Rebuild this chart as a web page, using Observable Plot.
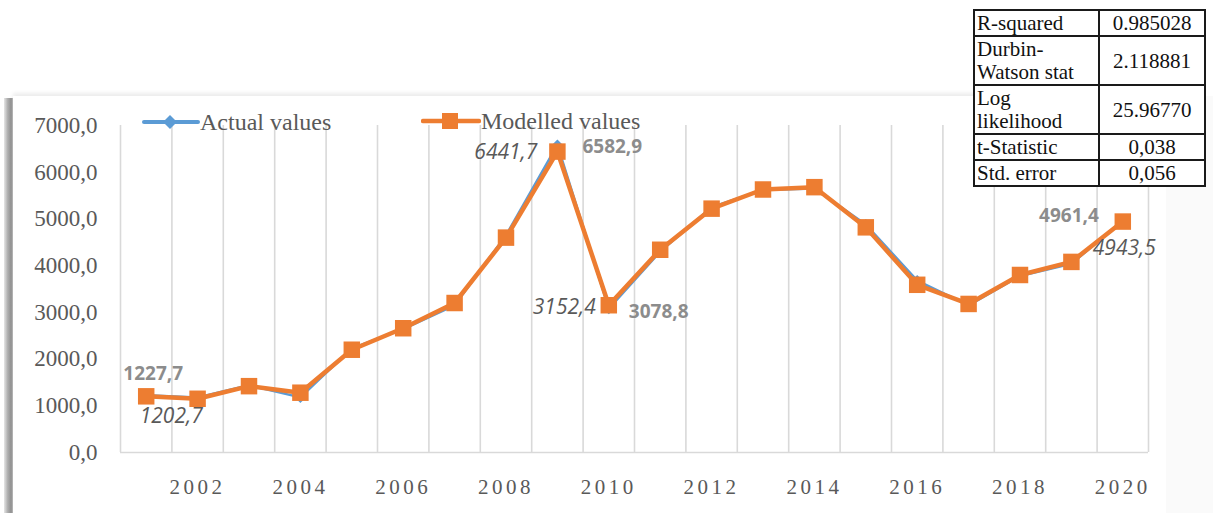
<!DOCTYPE html>
<html>
<head>
<meta charset="utf-8">
<script src="https://cdn.jsdelivr.net/npm/d3@7"></script>
<script src="https://cdn.jsdelivr.net/npm/@observablehq/plot@0.6"></script>
<style>
  html, body { margin: 0; padding: 0; background: #ffffff; }
  #wrap { position: relative; width: 1213px; height: 513px; overflow: hidden; background: #ffffff; }
  #panel { position: absolute; left: 13px; top: 96px; width: 1153px; height: 430px; background: #ffffff;
           box-shadow: 0 -3px 4px rgba(0,0,0,0.08); }
  #lshadow { position: absolute; left: 4px; top: 98px; width: 9px; height: 420px;
             background: linear-gradient(to right, #e6e6e6, #b0b0b0 40%, #8f8f8f 80%, #bdbdbd); }
  #rfade { position: absolute; left: 1166px; top: 96px; width: 47px; height: 420px; background: #fafafa; }
  #chart { position: absolute; left: 0; top: 0; }
  #chart svg [aria-label^="y-axis"] text { font-family: "Liberation Serif", "DejaVu Serif", serif; font-size: 23px; fill: #595959; }
  #chart svg [aria-label^="x-axis"] text { font-family: "Liberation Serif", "DejaVu Serif", serif; font-size: 21px; fill: #595959; letter-spacing: 3.5px; }
  .legend { position: absolute; font-family: "Liberation Serif", serif; font-size: 24px; color: #595959; display: flex; align-items: center; }
  .legend svg { display: block; }
  #stats { position: absolute; left: 973px; top: 9px; border-collapse: collapse; background: #fff;
           font-family: "Liberation Serif", "DejaVu Serif", serif; font-size: 21px; color: #111; }
  #stats td { border: 2px solid #1a1a1a; padding: 1px 2px 0 2px; line-height: 23px; }
  #stats td.k { width: 119px; text-align: left; }
  #stats td.v { width: 100px; text-align: center; }
</style>
</head>
<body>
<div id="wrap">
  <div id="panel"></div>
  <div id="lshadow"></div>
  <div id="rfade"></div>
  <div id="chart"></div>
  <div id="legend1" class="legend" style="left:142px; top:108px;"></div>
  <div id="legend2" class="legend" style="left:421px; top:107px;"></div>
  <table id="stats"></table>
</div>
<script>
// ---- data ----
const years = [2001, 2002, 2003, 2004, 2005, 2006, 2007, 2008, 2009, 2010,
               2011, 2012, 2013, 2014, 2015, 2016, 2017, 2018, 2019, 2020];
const actualValues = [1227.7, 1180, 1440, 1180, 2230, 2640, 3150, 4650, 6582.9, 3078.8,
                      4300, 5250, 5620, 5650, 4880, 3680, 3150, 3780, 4040, 4961.4];
const modelledValues = [1202.7, 1150, 1420, 1280, 2200, 2660, 3200, 4600, 6441.7, 3152.4,
                        4340, 5220, 5630, 5680, 4820, 3590, 3180, 3800, 4080, 4943.5];
const yTicks = [0, 1000, 2000, 3000, 4000, 5000, 6000, 7000];
const xTickLabels = [2002, 2004, 2006, 2008, 2010, 2012, 2014, 2016, 2018, 2020];
const seriesNames = ["Actual values", "Modelled values"];
const labelledActualYears = [2001, 2009, 2010, 2020];
const labelledModelledYears = [2001, 2009, 2010, 2020];
const statKeys = ["R-squared", "Durbin-<br>Watson stat", "Log<br>likelihood", "t-Statistic", "Std. error"];
const statValues = ["0.985028", "2.118881", "25.96770", "0,038", "0,056"];

// ---- styles ----
const blue = "#5b9bd5", orange = "#ed7d31";
const actualLabelStyle = {
  2001: {dx: 7, dy: -21, anchor: "middle"},
  2009: {dx: 25, dy: 2, anchor: "start"},
  2010: {dx: 20, dy: 3, anchor: "start"},
  2020: {dx: -24, dy: -5, anchor: "end"}
};
const modelledLabelStyle = {
  2001: {dx: 25, dy: 20, anchor: "middle"},
  2009: {dx: -20, dy: 1, anchor: "end"},
  2010: {dx: -13, dy: 2, anchor: "end"},
  2020: {dx: -30, dy: 27, anchor: "start"}
};

const fmt = v => v.toFixed(1).replace(".", ",");
const actual = years.map((y, i) => ({year: y, value: actualValues[i]}));
const modelled = years.map((y, i) => ({year: y, value: modelledValues[i]}));
const boundaries = d3.range(years.length + 1).map(i => years[0] - 0.5 + i);

function labelMarks(data, labelledYears, styles, extra) {
  return labelledYears.map(yr => {
    const d = data.filter(e => e.year === yr);
    const s = styles[yr];
    return Plot.text(d, {x: "year", y: "value", text: e => fmt(e.value),
      dx: s.dx, dy: s.dy, textAnchor: s.anchor,
      fontFamily: "'Open Sans', 'Noto Sans', sans-serif", ...extra});
  });
}

const chart = Plot.plot({
  width: 1213, height: 513,
  marginLeft: 120, marginRight: 65, marginTop: 125, marginBottom: 61,
  style: {background: "transparent", overflow: "visible"},
  x: {type: "linear", domain: [years[0] - 0.5, years[years.length - 1] + 0.5],
      ticks: xTickLabels, tickFormat: d => String(d), tickSize: 0, tickPadding: 27, label: null},
  y: {domain: [yTicks[0], yTicks[yTicks.length - 1]], ticks: yTicks, tickFormat: fmt,
      tickSize: 0, tickPadding: 23, label: null},
  marks: [
    Plot.ruleX(boundaries, {y1: yTicks[0], y2: yTicks[yTicks.length - 1], stroke: "#d9d9d9", strokeWidth: 1.6}),
    Plot.ruleY([0], {stroke: "#d9d9d9", strokeWidth: 1.6}),
    Plot.line(actual, {x: "year", y: "value", stroke: blue, strokeWidth: 2.5}),
    Plot.dot(actual, {x: "year", y: "value", symbol: "diamond2", r: 5, fill: blue, stroke: null}),
    Plot.line(modelled, {x: "year", y: "value", stroke: orange, strokeWidth: 4.5}),
    Plot.dot(modelled, {x: "year", y: "value", symbol: "square", r: 9.3, fill: orange, stroke: null}),
    ...labelMarks(actual, labelledActualYears, actualLabelStyle, {fill: "#8c8c8c", fontWeight: "bold", fontSize: 19}),
    ...labelMarks(modelled, labelledModelledYears, modelledLabelStyle, {fill: "#595959", fontStyle: "italic", fontSize: 21})
  ]
});
document.getElementById("chart").appendChild(chart);

// legend
document.getElementById("legend1").innerHTML =
  `<svg width="58" height="28"><line x1="2" y1="14" x2="56" y2="14" stroke="${blue}" stroke-width="4" stroke-linecap="round"/>` +
  `<path d="M28,7 L35,14 L28,21 L21,14 Z" fill="${blue}"/></svg><span>${seriesNames[0]}</span>`;
document.getElementById("legend2").innerHTML =
  `<svg width="60" height="28"><line x1="2" y1="14" x2="58" y2="14" stroke="${orange}" stroke-width="4.5" stroke-linecap="round"/>` +
  `<rect x="21" y="6" width="16" height="16" fill="${orange}"/></svg><span>${seriesNames[1]}</span>`;

// stats table
document.getElementById("stats").innerHTML = statKeys.map((k, i) =>
  `<tr><td class="k">${k}</td><td class="v">${statValues[i]}</td></tr>`).join("");
</script>
</body>
</html>
